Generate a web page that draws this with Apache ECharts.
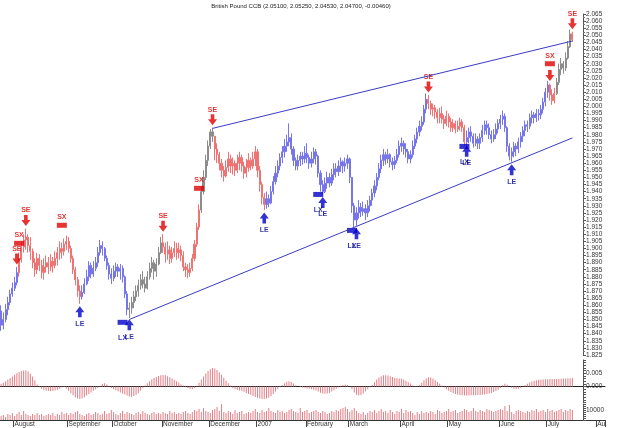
<!DOCTYPE html>
<html><head><meta charset="utf-8">
<script src="https://cdn.jsdelivr.net/npm/echarts@6/dist/echarts.min.js"></script>
<style>html,body{margin:0;padding:0;background:#fff}#c{width:625px;height:428px}</style>
</head><body><div id="c"></div>
<script>
// ---------- data ----------
const titleText = 'British Pound CCB (2.05100, 2.05250, 2.04530, 2.04700, -0.00460)';
const firstOpen = 1.856;
const closes = [
1.846,1.850,1.857,1.862,1.868,1.872,1.876,1.883,1.893,1.901,
1.906,1.908,1.902,1.898,1.890,1.885,1.893,1.888,1.883,1.887,
1.890,1.887,1.891,1.888,1.893,1.897,1.900,1.898,1.903,1.905,
1.900,1.893,1.885,1.878,1.870,1.866,1.869,1.875,1.880,1.888,
1.882,1.886,1.890,1.897,1.902,1.900,1.893,1.888,1.882,1.879,
1.884,1.887,1.884,1.886,1.880,1.868,1.857,1.858,1.862,1.866,
1.870,1.874,1.878,1.875,1.872,1.880,1.886,1.890,1.884,1.889,
1.897,1.904,1.901,1.896,1.899,1.893,1.897,1.900,1.897,1.899,
1.895,1.887,1.885,1.883,1.886,1.893,1.903,1.915,1.927,1.940,
1.950,1.962,1.972,1.982,1.979,1.970,1.966,1.960,1.955,1.951,
1.957,1.963,1.958,1.960,1.955,1.960,1.964,1.958,1.953,1.957,
1.962,1.958,1.963,1.968,1.955,1.945,1.936,1.931,1.935,1.932,
1.940,1.947,1.953,1.958,1.964,1.968,1.972,1.975,1.978,1.970,
1.962,1.958,1.962,1.965,1.963,1.967,1.964,1.960,1.963,1.968,
1.965,1.953,1.945,1.940,1.946,1.950,1.946,1.952,1.956,1.954,
1.958,1.961,1.958,1.960,1.963,1.950,1.930,1.920,1.925,1.929,
1.926,1.928,1.925,1.930,1.934,1.939,1.944,1.950,1.956,1.962,
1.966,1.963,1.966,1.961,1.959,1.962,1.966,1.972,1.974,1.970,
1.968,1.963,1.966,1.972,1.977,1.982,1.986,1.989,1.998,2.005,
2.002,1.998,1.999,1.996,1.992,1.995,1.991,1.988,1.993,1.989,
1.985,1.988,1.984,1.986,1.989,1.985,1.975,1.978,1.982,1.979,
1.974,1.977,1.974,1.978,1.983,1.987,1.985,1.980,1.977,1.980,
1.984,1.988,1.991,1.993,1.985,1.972,1.965,1.968,1.972,1.970,
1.975,1.979,1.983,1.987,1.986,1.992,1.994,1.992,1.995,1.994,
1.998,2.003,2.010,2.015,2.008,2.004,2.009,2.017,2.026,2.030,
2.027,2.034,2.042,2.051,2.047];
const highs = [
1.860,1.855,1.861,1.866,1.871,1.876,1.880,1.887,1.897,1.905,
1.910,1.914,1.910,1.908,1.900,1.893,1.897,1.896,1.892,1.893,
1.895,1.894,1.896,1.894,1.898,1.901,1.905,1.904,1.907,1.909,
1.908,1.902,1.895,1.887,1.880,1.874,1.874,1.879,1.885,1.891,
1.890,1.891,1.894,1.901,1.906,1.905,1.901,1.895,1.890,1.886,
1.888,1.890,1.889,1.889,1.888,1.881,1.870,1.862,1.866,1.870,
1.874,1.878,1.882,1.884,1.880,1.884,1.890,1.894,1.892,1.893,
1.901,1.908,1.910,1.904,1.905,1.902,1.901,1.905,1.904,1.904,
1.902,1.898,1.890,1.889,1.890,1.896,1.906,1.918,1.931,1.944,
1.955,1.966,1.976,1.984,1.985,1.979,1.974,1.968,1.963,1.958,
1.962,1.968,1.966,1.964,1.962,1.966,1.968,1.966,1.961,1.963,
1.967,1.964,1.968,1.972,1.970,1.958,1.947,1.939,1.940,1.938,
1.944,1.951,1.958,1.962,1.967,1.972,1.977,1.980,1.988,1.981,
1.972,1.964,1.966,1.968,1.968,1.972,1.974,1.966,1.968,1.971,
1.970,1.966,1.955,1.948,1.950,1.954,1.953,1.956,1.960,1.960,
1.962,1.964,1.962,1.964,1.966,1.964,1.950,1.932,1.929,1.934,
1.932,1.933,1.931,1.934,1.937,1.942,1.948,1.953,1.960,1.966,
1.970,1.968,1.970,1.967,1.964,1.965,1.970,1.976,1.978,1.976,
1.974,1.970,1.969,1.976,1.980,1.985,1.990,1.993,2.001,2.009,
2.008,2.004,2.002,2.001,1.998,1.999,2.000,1.994,1.997,1.995,
1.992,1.991,1.990,1.990,1.992,1.991,1.987,1.983,1.985,1.986,
1.981,1.981,1.979,1.981,1.987,1.990,1.990,1.988,1.983,1.984,
1.988,1.991,1.994,1.997,1.995,1.986,1.974,1.971,1.975,1.974,
1.978,1.982,1.986,1.990,1.990,1.995,1.997,1.996,1.998,1.998,
2.001,2.006,2.013,2.018,2.016,2.012,2.013,2.020,2.030,2.034,
2.032,2.038,2.046,2.054,2.0525];
const lows = [
1.842,1.843,1.848,1.853,1.860,1.866,1.870,1.874,1.880,1.890,
1.897,1.899,1.897,1.892,1.886,1.880,1.882,1.884,1.879,1.878,
1.883,1.882,1.884,1.883,1.886,1.888,1.892,1.893,1.895,1.899,
1.897,1.890,1.882,1.874,1.866,1.861,1.864,1.868,1.874,1.877,
1.879,1.880,1.884,1.887,1.895,1.895,1.891,1.885,1.878,1.875,
1.877,1.880,1.880,1.878,1.876,1.865,1.853,1.851,1.854,1.858,
1.863,1.866,1.871,1.872,1.869,1.871,1.878,1.883,1.878,1.880,
1.888,1.896,1.897,1.890,1.892,1.889,1.890,1.894,1.892,1.893,
1.891,1.884,1.880,1.879,1.880,1.884,1.891,1.901,1.913,1.925,
1.938,1.948,1.958,1.970,1.975,1.962,1.960,1.955,1.950,1.947,
1.950,1.954,1.953,1.952,1.951,1.953,1.955,1.954,1.949,1.950,
1.954,1.955,1.956,1.958,1.950,1.940,1.931,1.927,1.928,1.929,
1.931,1.938,1.945,1.950,1.955,1.960,1.964,1.968,1.972,1.966,
1.958,1.955,1.955,1.958,1.959,1.960,1.960,1.956,1.957,1.960,
1.959,1.950,1.940,1.938,1.939,1.942,1.943,1.944,1.948,1.950,
1.951,1.954,1.953,1.954,1.956,1.946,1.925,1.915,1.916,1.921,
1.922,1.923,1.920,1.922,1.926,1.930,1.936,1.941,1.948,1.953,
1.958,1.959,1.960,1.957,1.955,1.956,1.960,1.964,1.968,1.966,
1.964,1.960,1.960,1.964,1.970,1.974,1.979,1.983,1.987,1.995,
1.998,1.994,1.993,1.991,1.988,1.988,1.988,1.984,1.986,1.985,
1.982,1.982,1.981,1.982,1.983,1.982,1.972,1.970,1.974,1.975,
1.971,1.972,1.970,1.970,1.975,1.980,1.980,1.977,1.974,1.975,
1.977,1.981,1.984,1.987,1.982,1.968,1.962,1.961,1.964,1.965,
1.967,1.971,1.975,1.979,1.982,1.984,1.988,1.988,1.989,1.990,
1.991,1.995,2.000,2.006,2.004,2.001,2.002,2.008,2.015,2.022,
2.023,2.025,2.033,2.041,2.0453];
// trading regime by bar index: L = long (blue), S = short (red), F = flat (black)
const regimeRuns = [['L',0,7],['S',8,35],['L',36,56],['F',57,71],['S',72,88],['F',89,94],['S',95,117],
  ['L',118,189],['S',190,206],['L',207,243],['S',244,246],['F',247,253],['S',254,254]];
// oscillator, in 1/10000
const oscTenThousandths = [
10,14,20,26,32,38,44,50,55,58, 60,61,56,48,38,24,8,-3,-8,-12,
-15,-17,-18,-17,-15,-12,-8,-4,-2,-8, -16,-25,-33,-40,-45,-47,-44,-40,-34,-28,
-22,-16,-10,-5,2,10,12,8,2,-6, -10,-14,-18,-22,-26,-30,-34,-37,-38,-36,
-32,-25,-16,-6,4,12,20,27,32,36, 40,42,43,42,39,35,30,25,20,15,
9,4,-2,-6,-9,-10,-6,3,14,26, 38,49,58,65,70,68,62,54,44,33,
22,12,3,-6,-10,-13,-15,-17,-20,-24, -28,-32,-36,-39,-42,-45,-47,-47,-45,-42,
-36,-28,-19,-10,-2,6,12,18,20,17, 11,5,0,-2,-4,-5,-7,-8,-10,-12,
-15,-19,-23,-26,-27,-26,-23,-19,-14,-8, -3,3,6,8,6,1,-10,-22,-31,-34,
-32,-26,-18,-10,-3,6,16,26,34,39, 42,42,41,39,36,33,31,30,29,26,
22,17,11,5,2,2,6,14,24,31, 35,34,30,24,17,10,3,-4,-10,-16,
-21,-25,-28,-30,-32,-33,-34,-34,-34,-33, -33,-33,-32,-32,-31,-30,-28,-26,-24,-21,
-17,-12,-6,5,10,7,0,-5,-8,-9, -8,-5,-1,5,10,15,19,22,24,25,
26,26,27,27,28,28,28,28,29,29, 30,30,31,31,32];
// volume, in thousands
const volumeThousands = [
4,5,3,6,5,7,4,6,8,5, 9,6,5,4,6,5,7,5,6,4, 5,6,5,7,4,6,5,8,6,7,
5,7,6,8,9,6,5,4,6,7, 5,6,8,7,5,6,9,6,7,10, 8,6,5,7,9,6,8,7,6,5,
7,8,6,9,7,6,5,7,8,6, 7,6,8,7,6,9,7,8,6,7, 6,8,9,7,6,8,10,9,11,8,
12,9,8,7,10,11,13,9,16,8, 7,9,8,6,10,7,8,9,6,7, 8,7,9,11,8,7,10,8,9,12,
9,8,7,10,8,9,7,8,10,11, 9,8,7,12,8,9,10,7,8,9, 10,8,7,9,8,6,7,9,8,10,
9,11,12,13,11,8,10,12,9,7, 6,8,5,7,9,8,10,7,9,11, 8,9,7,10,8,6,9,8,11,7,
10,8,9,7,5,8,6,9,7,8, 7,9,8,6,10,9,7,8,9,11, 8,9,10,7,8,9,11,10,8,9,
12,9,8,10,9,8,11,10,9,8, 9,10,11,10,14,9,15,8,6,9, 10,9,8,7,9,8,10,9,11,8,
9,10,8,11,9,10,8,9,10,11, 8,10,9,11,10];
const barSlots = 269; // trading-day slots on the time axis (incl. empty slots after the last bar)
const monthLabels = ['August','September','October','November','December','2007','February','March','April','May','June','July','Au'];
const monthStarts = [6,30,50,72,93,114,136,155,178,199,222,243,265];
// signals: [bar index, price]
const shortEntries = [[7,1.887,'SE'],[11,1.914,'SE'],[72,1.910,'SE'],[94,1.985,'SE'],[190,2.008,'SE'],[244,2.016,''],[254,2.0525,'SE']];
const shortExits = [[8,1.9036],[27,1.9163],[88,1.9423],[244,2.030]];
const longEntries = [[35,1.861],[57,1.852],[117,1.927],[143,1.938],[158,1.916],[207,1.974],[227,1.961]];
const longExits = [[54,1.848],[141,1.938],[156,1.9127],[206,1.9718]];
const lowerTrend = [[57,1.8500],[254,1.9778]];
const upperTrend = [[94,1.9845],[254,2.0460]];

// ---------- build ----------
const FONT = 'Liberation Sans, Arial, sans-serif';
const palette = {
  S: {light:'#ee7474', dark:'#dd0000'},
  L: {light:'#7676e8', dark:'#0000c0'},
  F: {light:'#8c8c8c', dark:'#000000'}
};
const regimeOf = i => { for (const r of regimeRuns) if (i >= r[1] && i <= r[2]) return r[0]; return 'F'; };
const categories = Array.from({length: barSlots}, (_, i) => String(i));
const candles = closes.map((c, i) => {
  const o = i === 0 ? firstOpen : closes[i - 1];
  const h = Math.max(highs[i], o, c), l = Math.min(lows[i], o, c);
  const p = palette[regimeOf(i)];
  return {value: [o, c, l, h], itemStyle: {color: p.light, color0: p.dark, borderColor: p.light, borderColor0: p.dark, borderWidth: 1}};
});
const isMonth = idx => monthStarts.indexOf(idx) >= 0;
const downArrow = 'path://M3,0 L7,0 L7,5 L10,5 L5,11 L0,5 L3,5 Z';
const upArrow = 'path://M5,0 L10,6 L7,6 L7,11 L3,11 L3,6 L0,6 Z';
const lblBase = {fontFamily: FONT, fontSize: 7, fontWeight: 'bold'};

const yLbl = {fontFamily: FONT, fontSize: 6.5, color: '#333', margin: 3};
const rightAxisCommon = {
  position: 'right', offset: -22,
  axisLine: {show: true, lineStyle: {color: '#555', width: 1}},
  axisTick: {show: true, length: 3, lineStyle: {color: '#555'}},
  minorTick: {show: true, splitNumber: 2, length: 2, lineStyle: {color: '#777'}},
  splitLine: {show: false}
};

const chart = echarts.init(document.getElementById('c'), null, {renderer: 'canvas'});
chart.setOption({
  animation: false,
  backgroundColor: '#fff',
  graphic: [
    {type: 'text', x: 301, y: 6, style: {text: titleText, fill: '#222', font: '6px ' + FONT, align: 'center', verticalAlign: 'middle'}}
  ],
  grid: [
    {left: 0, right: 20, top: 14, height: 341},
    {left: 0, right: 20, top: 359.9, height: 42.6},
    {left: 0, right: 20, top: 404, height: 16}
  ],
  xAxis: [
    {type: 'category', gridIndex: 0, data: categories, boundaryGap: true, show: false},
    {type: 'category', gridIndex: 1, data: categories, boundaryGap: true,
      axisLine: {show: true, lineStyle: {color: '#222', width: 1}}, axisTick: {show: false}, axisLabel: {show: false}},
    {type: 'category', gridIndex: 2, data: categories, boundaryGap: true,
      axisLine: {show: true, lineStyle: {color: '#333', width: 1}},
      axisTick: {show: true, interval: isMonth, length: 7, lineStyle: {color: '#444'}},
      axisLabel: {show: true, interval: isMonth, align: 'left', margin: 1, fontFamily: FONT, fontSize: 6.5, color: '#333',
        formatter: v => { const k = monthStarts.indexOf(Number(v)); return k >= 0 ? monthLabels[k] : ''; }}}
  ],
  yAxis: [
    Object.assign({}, rightAxisCommon, {type: 'value', gridIndex: 0, min: 1.825, max: 2.065, interval: 0.005,
      axisLabel: Object.assign({}, yLbl, {formatter: v => v.toFixed(3)})}),
    Object.assign({}, rightAxisCommon, {type: 'value', gridIndex: 1, min: -0.006, max: 0.010, interval: 0.001,
      minorTick: {show: false},
      axisLabel: Object.assign({}, yLbl, {formatter: v => (Math.abs(v) < 1e-9 || Math.abs(v - 0.005) < 1e-9) ? v.toFixed(3) : ''})}),
    Object.assign({}, rightAxisCommon, {type: 'value', gridIndex: 2, min: 0, max: 16000, interval: 2000,
      minorTick: {show: false},
      axisLabel: Object.assign({}, yLbl, {formatter: v => Math.abs(v - 10000) < 1e-6 ? '10000' : ''})})
  ],
  series: [
    {type: 'candlestick', name: 'price', xAxisIndex: 0, yAxisIndex: 0, barWidth: 1.6, data: candles},
    {type: 'line', xAxisIndex: 0, yAxisIndex: 0, data: lowerTrend, symbol: 'none', lineStyle: {color: '#3b3bc4', width: 1}, silent: true},
    {type: 'line', xAxisIndex: 0, yAxisIndex: 0, data: upperTrend, symbol: 'none', lineStyle: {color: '#3b3bc4', width: 1}, silent: true},
    {type: 'scatter', xAxisIndex: 0, yAxisIndex: 0, clip: false, symbol: downArrow, symbolSize: [9, 11], symbolOffset: [0, -8],
      itemStyle: {color: '#e00000'},
      label: Object.assign({show: true, position: 'top', distance: 1, color: '#e00000', formatter: p => p.data[2]}, lblBase),
      data: shortEntries},
    {type: 'scatter', xAxisIndex: 0, yAxisIndex: 0, clip: false, symbol: 'rect', symbolSize: [10, 5],
      itemStyle: {color: '#e00000'},
      label: Object.assign({show: true, position: 'top', distance: 2, color: '#e00000', formatter: 'SX'}, lblBase),
      data: shortExits},
    {type: 'scatter', xAxisIndex: 0, yAxisIndex: 0, clip: false, symbol: upArrow, symbolSize: [9, 11], symbolOffset: [0, 8],
      itemStyle: {color: '#0000c8'},
      label: Object.assign({show: true, position: 'bottom', distance: 3, color: '#000090', formatter: 'LE'}, lblBase),
      data: longEntries},
    {type: 'scatter', xAxisIndex: 0, yAxisIndex: 0, clip: false, symbol: 'rect', symbolSize: [10, 5],
      itemStyle: {color: '#0000c8'},
      label: Object.assign({show: true, position: 'bottom', distance: 10, color: '#000090', formatter: 'LX'}, lblBase),
      data: longExits},
    {type: 'bar', xAxisIndex: 1, yAxisIndex: 1, barWidth: 1, itemStyle: {color: '#e37f87'},
      data: oscTenThousandths.map(v => v / 10000)},
    {type: 'bar', xAxisIndex: 2, yAxisIndex: 2, barWidth: 1, itemStyle: {color: '#e37f87'},
      data: volumeThousands.map(v => v * 1000)}
  ]
});
</script>
</body></html>
